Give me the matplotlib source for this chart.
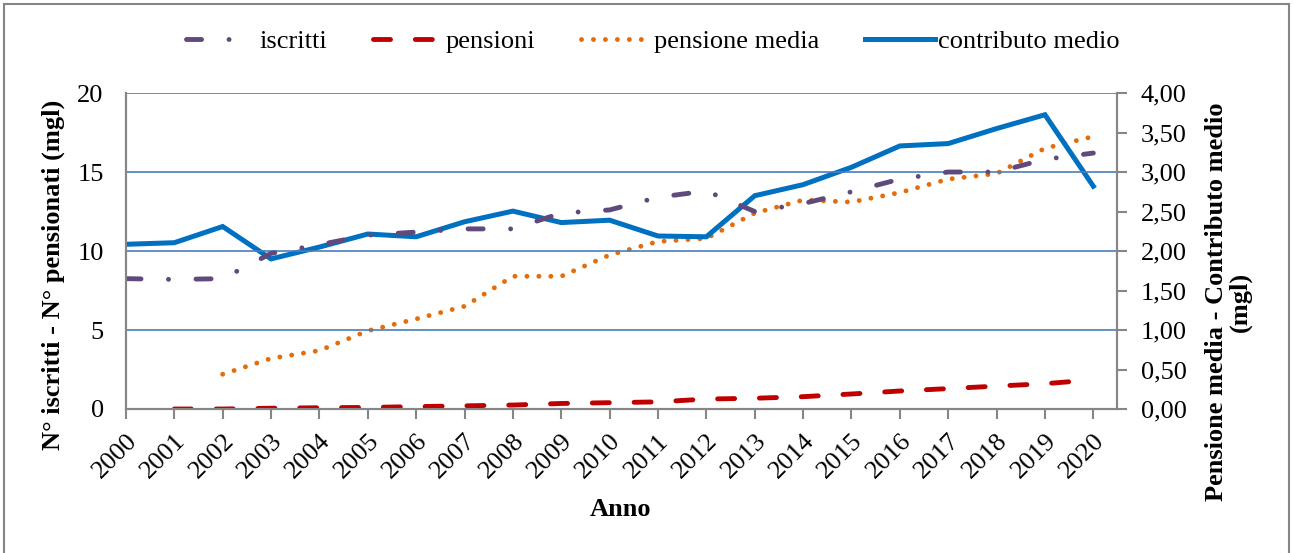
import matplotlib
matplotlib.use("Agg")
import matplotlib.pyplot as plt
from matplotlib.patches import Rectangle
from matplotlib.ticker import FuncFormatter

plt.rcParams['font.family'] = ['Liberation Serif', 'DejaVu Serif']

# dati
anni = list(range(2000, 2021))
iscritti = [8.25, 8.2, 8.25, 9.85, 10.4, 11.0, 11.2, 11.4, 11.4, 12.4, 12.6,
            13.4, 13.8, 12.5, 13.0, 13.75, 14.55, 15.0, 15.0, 15.8, 16.2]
pensioni = [None, 0.0, 0.0, 0.05, 0.08, 0.1, 0.15, 0.2, 0.25, 0.35, 0.4,
            0.45, 0.63, 0.68, 0.78, 0.95, 1.14, 1.29, 1.45, 1.6, 1.85]
pensione_media = [None, None, 0.44, 0.64, 0.74, 0.99, 1.14, 1.3, 1.68, 1.68, 1.95,
                  2.12, 2.16, 2.48, 2.645, 2.62, 2.74, 2.91, 2.98, 3.3, 3.45]
contributo_medio = [2.085, 2.105, 2.31, 1.9, 2.05, 2.215, 2.18, 2.37, 2.505, 2.36, 2.39,
                    2.19, 2.18, 2.7, 2.84, 3.06, 3.33, 3.36, 3.55, 3.725, 2.82]

def serie(vals):
    xs = [i for i, v in enumerate(vals) if v is not None]
    ys = [v for v in vals if v is not None]
    return xs, ys

FS = 19
fig = plt.figure(figsize=(12.93, 5.53), dpi=100)
ax = fig.add_axes([0.0974, 0.2604, 0.7665, 0.5714])
ax2 = ax.twinx()

grey = '#868686'
grid_col = '#4A7EBB'

x, y = serie(iscritti)
l1, = ax.plot(x, y, color='#604A7B', lw=3.5, dashes=(3.1, 5.65, 0.01, 5.65),
              dash_capstyle='round', label='iscritti')
x, y = serie(pensioni)
l2, = ax.plot(x, y, color='#C00000', lw=3.5, dashes=(3.5, 5.1),
              dash_capstyle='round', label='pensioni')
x, y = serie(pensione_media)
l3, = ax2.plot(x, y, color='#E46C0A', lw=3.5, dashes=(0.01, 2.45),
               dash_capstyle='round', label='pensione media')
x, y = serie(contributo_medio)
l4, = ax2.plot(x, y, color='#0070C0', lw=3.6, solid_joinstyle='miter',
               label='contributo medio')

ax.set_xlim(0, 20.49)
ax.set_ylim(0, 20)
ax2.set_ylim(0, 4)
ax.set_yticks([0, 5, 10, 15, 20])
ax2.set_yticks([i * 0.5 for i in range(9)])
ax2.yaxis.set_major_formatter(FuncFormatter(lambda v, p: f'{v:.2f}'.replace('.', ',')))

ax.set_xticks(range(len(anni)))
ax.set_xticklabels([str(a) for a in anni], rotation=45, ha='right', va='top',
                   rotation_mode='anchor')

for a in (ax, ax2):
    for s in a.spines.values():
        s.set_color(grey)
        s.set_linewidth(1.5)
    a.spines['top'].set_visible(False)
ax.tick_params(axis='x', direction='out', length=7, width=1.5, color=grey,
               labelsize=FS, pad=8)
ax.tick_params(axis='y', length=0, labelsize=FS, pad=16)
ax2.tick_params(axis='y', direction='out', length=7, width=1.5, color=grey,
                labelsize=FS, pad=10)

for g in [5, 10, 15, 20]:
    ax.axhline(g, color=grid_col, lw=1.2, zorder=0)

ax.set_zorder(ax2.get_zorder() + 1)
ax.patch.set_visible(False)

fig.text(0.480, 0.078, 'Anno', ha='center', va='center', fontsize=FS,
         fontweight='bold')
fig.text(0.041, 0.503, 'N° iscritti - N° pensionati (mgl)', rotation=90,
         ha='center', va='center', fontsize=FS, fontweight='bold')
fig.text(0.950, 0.454, 'Pensione media - Contributo medio\n(mgl)', rotation=90,
         ha='center', va='center', fontsize=FS, fontweight='bold',
         multialignment='center', linespacing=1.0)

fig.legend([l1, l2, l3, l4], ['iscritti', 'pensioni', 'pensione media', 'contributo medio'],
           loc='center', bbox_to_anchor=(0.505, 0.925), ncol=4, frameon=False,
           fontsize=FS, handlelength=2.65, handletextpad=0.1, columnspacing=1.75)

fig.patches.append(Rectangle((4 / 1293, -0.05), 1285 / 1293, 1.05 - 4 / 553,
                             transform=fig.transFigure, fill=False,
                             edgecolor=grey, lw=1.5))

fig.savefig('out.png', dpi=100)
